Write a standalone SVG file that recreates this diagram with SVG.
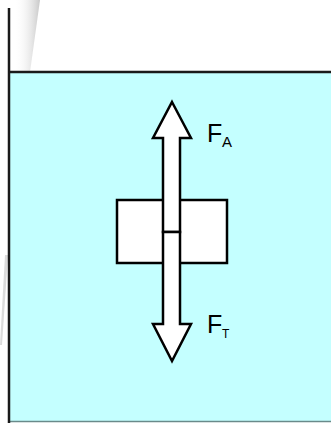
<svg xmlns="http://www.w3.org/2000/svg" width="331" height="423" viewBox="0 0 331 423">
<defs>
<linearGradient id="sh" x1="0" y1="0" x2="1" y2="0">
<stop offset="0" stop-color="#ffffff" stop-opacity="0"/>
<stop offset="1" stop-color="#bbbbbb" stop-opacity="0.8"/>
</linearGradient>
<style>
.arrow{fill:#ffffff;stroke:#000000;stroke-width:2.5;stroke-linejoin:miter}
.box{fill:#ffffff;stroke:#000000;stroke-width:2.5}
.lbl{font-family:"Liberation Sans",Arial,sans-serif;fill:#000000}
</style>
</defs>
<rect width="331" height="423" fill="#ffffff"/>
<g id="glass">
<polygon points="14,0 40,0 30,72 14,72" fill="url(#sh)"/>
<polygon points="8,255 5,255 0,345 2,345" fill="#cccccc" opacity="0.7"/>
<rect x="9" y="72" width="322" height="350" fill="#c4ffff"/>
<line x1="9" y1="421.5" x2="331" y2="421.5" stroke="#6a8a8a" stroke-width="1.5"/>
<line x1="9" y1="72" x2="331" y2="72" stroke="#1a1a1a" stroke-width="2.5"/>
<line x1="9" y1="8" x2="9" y2="423" stroke="#1a1a1a" stroke-width="2.5"/>
</g>
<g id="body">
<rect class="box" x="117" y="200" width="110" height="63"/>
</g>
<g id="connectors">
<polygon id="up" class="arrow" points="172,102 191,138 180,138 180,232 163,232 163,138 153,138"/>
<polygon id="down" class="arrow" points="163,232 180,232 180,324 191,324 172,361 153,324 163,324"/>
</g>
<g id="labelA">
<text class="lbl" x="207" y="142" font-size="25">F</text>
<text class="lbl" x="222" y="147" font-size="15">A</text>
</g>
<g id="labelT">
<text class="lbl" x="207" y="333" font-size="25">F</text>
<text class="lbl" x="222" y="338" font-size="12">T</text>
</g>
</svg>
